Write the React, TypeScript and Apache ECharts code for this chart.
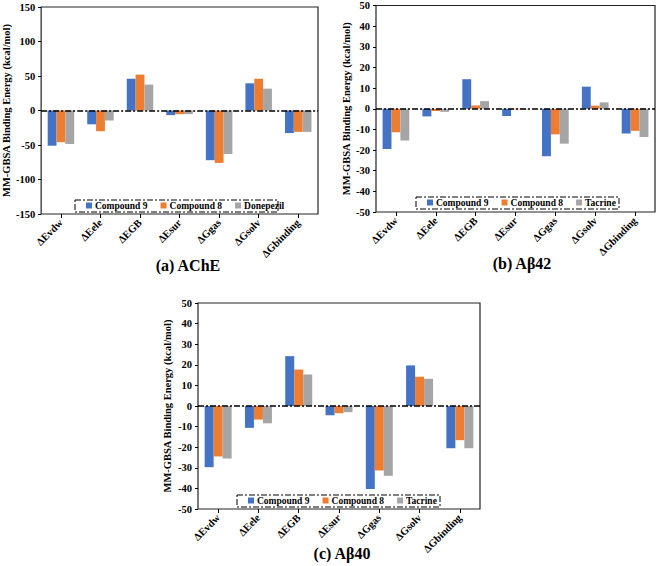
import React, { useEffect, useRef } from "react";
import * as echarts from "echarts";

const categories = ["ΔEvdw", "ΔEele", "ΔEGB", "ΔEsur", "ΔGgas", "ΔGsolv", "ΔGbinding"];

const acheCompound9 = [-51, -20, 46, -6.7, -72, 39.4, -32.7];
const acheCompound8 = [-46, -30, 52, -5.3, -76, 46, -31];
const acheDonepezil = [-48.5, -14.5, 37.5, -5.3, -63, 31.7, -31];

const ab42Compound9 = [-19.5, -3.7, 14.3, -3.5, -23, 10.7, -12];
const ab42Compound8 = [-11.4, -1.1, 1.6, -0.3, -12.4, 1.5, -10.7];
const ab42Tacrine = [-15.4, -1.5, 3.7, -0.4, -16.9, 3.1, -13.7];

const ab40Compound9 = [-29.7, -10.6, 24.2, -4.5, -40.3, 19.7, -20.5];
const ab40Compound8 = [-24.5, -6.6, 17.7, -3.5, -31.3, 14.2, -16.6];
const ab40Tacrine = [-25.5, -8.4, 15.3, -3, -33.9, 13.2, -20.5];

const acheTicks = { min: -150, max: 150, interval: 50 };
const abTicks = { min: -50, max: 50, interval: 10 };

const panelTitles = ["(a) AChE", "(b) Aβ42", "(c) Aβ40"];
const legendA = ["Compound 9", "Compound 8", "Donepezil"];
const legendB = ["Compound 9", "Compound 8", "Tacrine"];

const BLUE = "#4472C4";
const ORANGE = "#ED7D31";
const GRAY = "#A5A5A5";
const FONT = "Liberation Serif, serif";

const grids = [
  { left: 37, top: 7, width: 281, height: 207 },
  { left: 376, top: 5, width: 279, height: 207 },
  { left: 198, top: 303, width: 282, height: 206 },
];

const legendBoxes = [
  { x: 75, y: 200, w: 203, h: 12 },
  { x: 416, y: 197, w: 203, h: 12 },
  { x: 237, y: 495, w: 203, h: 12 },
];

const titlePos = [
  { x: 188, y: 265 },
  { x: 522, y: 263 },
  { x: 342, y: 553 },
];

const nameGaps = [23, 24, 25];

export default function App() {
  const ref = useRef<HTMLDivElement>(null);
  useEffect(() => {
    document.body.style.margin = "0";
    if (!ref.current) return;
    const chart = echarts.init(ref.current, undefined, { renderer: "svg" });

    const xAxes = grids.map((_, i) => ({
      type: "category",
      gridIndex: i,
      data: categories,
      axisLine: { show: false, onZero: false },
      axisTick: { show: true, alignWithLabel: true, length: 4, lineStyle: { color: "#000", width: 1 } },
      axisLabel: {
        show: true,
        rotate: 45,
        margin: 7,
        interval: 0,
        fontFamily: FONT,
        fontWeight: "bold",
        fontSize: 10.5,
        color: "#000",
      },
      splitLine: { show: false },
    }));

    const yAxes = grids.map((_, i) => {
      const t = i === 0 ? acheTicks : abTicks;
      return {
        type: "value",
        gridIndex: i,
        min: t.min,
        max: t.max,
        interval: t.interval,
        name: "MM-GBSA Binding Energy (kcal/mol)",
        nameLocation: "middle",
        nameRotate: 90,
        nameGap: nameGaps[i],
        nameTextStyle: { fontFamily: FONT, fontWeight: "bold", fontSize: 10.5, color: "#000" },
        axisLine: { show: false },
        axisTick: { show: true, length: 3, lineStyle: { color: "#000" } },
        axisLabel: { fontFamily: FONT, fontWeight: "bold", fontSize: 10.5, color: "#000", margin: 6 },
        splitLine: { show: false },
      };
    });

    const zeroLine = {
      silent: true,
      symbol: ["none", "none"],
      label: { show: false },
      lineStyle: { color: "#000", type: [6, 2, 2, 2], width: 1.5 },
      data: [{ yAxis: 0 }],
    };

    const groups = [
      [acheCompound9, acheCompound8, acheDonepezil],
      [ab42Compound9, ab42Compound8, ab42Tacrine],
      [ab40Compound9, ab40Compound8, ab40Tacrine],
    ];
    const names = [legendA, legendB, legendB];
    const colors = [BLUE, ORANGE, GRAY];

    const series: any[] = [];
    groups.forEach((g, gi) => {
      g.forEach((data, si) => {
        series.push({
          type: "bar",
          name: names[gi][si],
          xAxisIndex: gi,
          yAxisIndex: gi,
          data,
          barGap: "0%",
          barCategoryGap: "33%",
          itemStyle: { color: colors[si] },
          markLine: si === 2 ? zeroLine : undefined,
        });
      });
    });

    const legends = legendBoxes.map((b, i) => ({
      data: names[i],
      left: b.x + 11,
      top: b.y + 0.5,
      orient: "horizontal",
      icon: "rect",
      itemWidth: 6,
      itemHeight: 6,
      itemGap: 13,
      padding: 0,
      selectedMode: false,
      textStyle: { fontFamily: FONT, fontWeight: "bold", fontSize: 9.5, color: "#000", padding: [0, 0, 0, -2] },
    }));

    const graphic: any[] = [];
    legendBoxes.forEach((b) => {
      graphic.push({
        type: "rect",
        shape: { x: b.x, y: b.y, width: b.w, height: b.h },
        style: { fill: "none", stroke: "#000", lineWidth: 1, lineDash: [6, 2, 2, 2] },
        silent: true,
      });
    });
    panelTitles.forEach((t, i) => {
      graphic.push({
        type: "text",
        x: titlePos[i].x,
        y: titlePos[i].y,
        style: {
          text: t,
          font: `bold 16px ${FONT}`,
          fill: "#000",
          textAlign: "center",
          textVerticalAlign: "middle",
        },
        silent: true,
      });
    });

    chart.setOption({
      animation: false,
      backgroundColor: "#fff",
      grid: grids.map((g) => ({ ...g, show: true, borderColor: "#222", borderWidth: 1.2, backgroundColor: "transparent" })),
      xAxis: xAxes,
      yAxis: yAxes,
      legend: legends,
      series,
      graphic,
    });
    return () => chart.dispose();
  }, []);
  return <div ref={ref} style={{ width: 661, height: 566 }} />;
}
